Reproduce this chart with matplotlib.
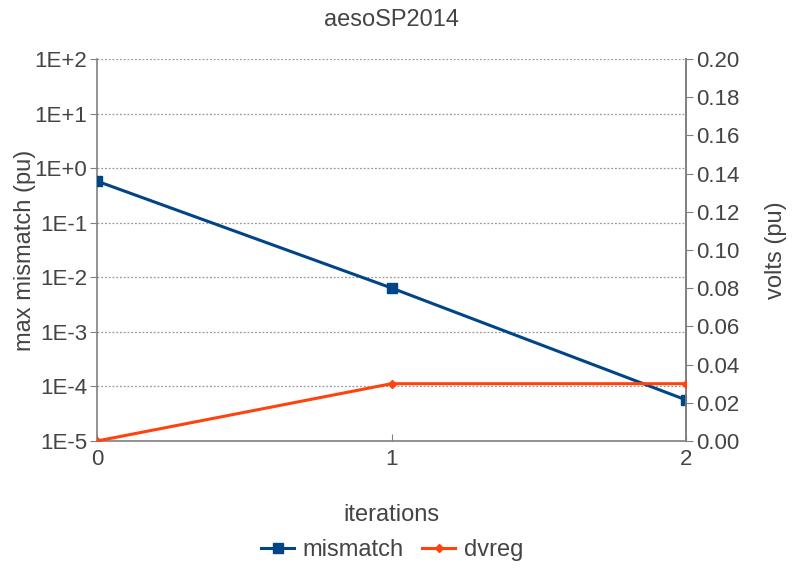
import numpy as np
import matplotlib.pyplot as plt
from matplotlib.ticker import FixedLocator

plt.rcParams['font.family'] = ['Liberation Sans', 'DejaVu Sans']

# --- data ---
iterations = [0, 1, 2]
mismatch = [0.578, 0.00637, 5.66e-5]
dvreg = [0.0, 0.03, 0.03]
left_ticks = [1e-5, 1e-4, 1e-3, 1e-2, 1e-1, 1e0, 1e1, 1e2]
left_labels = ['1E-5', '1E-4', '1E-3', '1E-2', '1E-1', '1E+0', '1E+1', '1E+2']
right_ticks = [0.00, 0.02, 0.04, 0.06, 0.08, 0.10, 0.12, 0.14, 0.16, 0.18, 0.20]

txt = '#444444'
ax_col = '#808080'
blue = '#004586'
orange = '#ff420e'

fig = plt.figure(figsize=(7.92, 5.73), dpi=100)
ax = fig.add_axes([97 / 792, 1 - 441 / 573, 589 / 792, 382 / 573])

l1, = ax.plot(iterations, mismatch, color=blue, lw=2.2, marker='s', ms=6.5,
              label='mismatch', zorder=3)
ax.set_yscale('log')
ax.set_ylim(1e-5, 1e2)
ax.set_xlim(0, 2)
ax.yaxis.set_major_locator(FixedLocator(left_ticks))
ax.set_yticks(left_ticks)
ax.set_yticklabels(left_labels)
ax.minorticks_off()
ax.set_xticks(iterations)
ax.grid(axis='y', which='major', color='#999999', ls=(0, (1.5, 1.5)), lw=0.9)

ax2 = ax.twinx()
l2, = ax2.plot(iterations, dvreg, color=orange, lw=2.2, marker='D', ms=4.5,
               label='dvreg', zorder=3)
ax2.set_ylim(0, 0.2)
ax2.set_yticks(right_ticks)
ax2.set_yticklabels([f'{v:.2f}' for v in right_ticks])

for a in (ax, ax2):
    a.spines['top'].set_visible(False)
    for s in a.spines.values():
        s.set_color(ax_col)
        s.set_linewidth(1.2)
ax2.spines['left'].set_visible(False)
ax2.spines['bottom'].set_visible(False)

ax.tick_params(axis='y', direction='out', length=5, color=ax_col,
               labelsize=16, labelcolor=txt, pad=2)
ax.tick_params(axis='x', direction='in', length=5, color=ax_col,
               labelsize=16, labelcolor=txt, pad=6)
ax2.tick_params(axis='y', direction='out', length=5, color=ax_col,
                labelsize=16, labelcolor=txt, pad=2)

ax.set_ylabel('max mismatch (pu)', fontsize=17, color=txt, labelpad=-1)
ax2.set_ylabel('volts (pu)', fontsize=17, color=txt, labelpad=19)
ax.set_xlabel('iterations', fontsize=17, color=txt, labelpad=24)
ax.set_title('aesoSP2014', fontsize=17, color=txt, pad=24)

fig.legend(handles=[l1, l2], loc='center', bbox_to_anchor=(392 / 792, 1 - 550 / 573),
           ncol=2, frameon=False, fontsize=17, labelcolor=txt,
           handlelength=1.4, columnspacing=0.8, handletextpad=0.35)

fig.savefig('out.png', dpi=100)
